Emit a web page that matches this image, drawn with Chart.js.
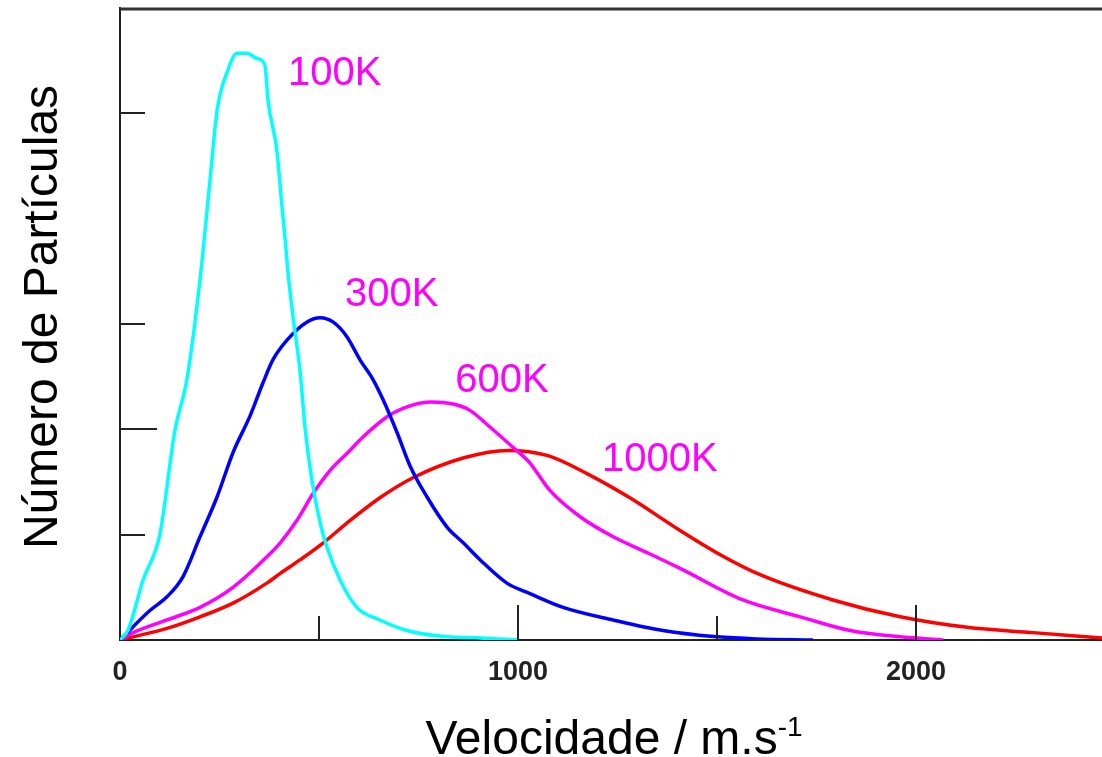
<!DOCTYPE html>
<html>
<head>
<meta charset="utf-8">
<script src="https://cdn.jsdelivr.net/npm/chart.js@4"></script>
<style>
  body { margin: 0; background: #fff; }
  #wrap { width: 1102px; height: 757px; }
</style>
</head>
<body>
<div id="wrap"><canvas id="maxwell" width="1102" height="757"></canvas></div>
<script>
// Maxwell-Boltzmann speed distributions (arbitrary count units)
var speed100 = [0, 20, 58, 100, 138, 168, 201, 226, 244, 271, 294, 319, 344, 364, 372, 394, 407, 415, 422, 435, 453, 465, 482, 503, 520, 553, 595, 653, 721, 822, 905, 1000];
var count100 = [0, 0.09, 0.57, 1.0, 1.99, 2.47, 3.42, 4.36, 5.03, 5.41, 5.57, 5.57, 5.52, 5.46, 5.12, 4.65, 4.11, 3.80, 3.49, 3.06, 2.53, 2.01, 1.52, 1.11, 0.88, 0.57, 0.31, 0.19, 0.09, 0.03, 0.02, 0];

var speed300 = [0, 75, 118, 158, 201, 244, 284, 327, 359, 384, 420, 470, 503, 535, 570, 603, 636, 661, 696, 729, 771, 822, 863, 905, 972, 1030, 1113, 1239, 1364, 1500, 1600, 1741];
var count300 = [0, 0.28, 0.41, 0.60, 0.98, 1.36, 1.78, 2.13, 2.44, 2.66, 2.85, 3.02, 3.06, 3.02, 2.88, 2.66, 2.47, 2.28, 1.97, 1.65, 1.36, 1.07, 0.92, 0.76, 0.54, 0.44, 0.31, 0.19, 0.09, 0.03, 0.01, 0];

var speed600 = [0, 33, 118, 201, 284, 369, 402, 445, 485, 528, 570, 611, 671, 711, 779, 837, 879, 930, 987, 1030, 1080, 1156, 1239, 1324, 1407, 1565, 1709, 1834, 1960, 2068];
var count600 = [0, 0.07, 0.19, 0.31, 0.50, 0.79, 0.92, 1.14, 1.39, 1.61, 1.77, 1.93, 2.12, 2.20, 2.26, 2.24, 2.18, 2.02, 1.83, 1.68, 1.42, 1.17, 0.98, 0.83, 0.68, 0.38, 0.22, 0.09, 0.03, 0];

var speed1000 = [0, 33, 118, 201, 284, 369, 402, 452, 510, 570, 653, 736, 864, 975, 1075, 1173, 1281, 1407, 1508, 1608, 1791, 1960, 2128, 2294, 2467];
var count1000 = [0, 0.03, 0.11, 0.22, 0.35, 0.54, 0.63, 0.76, 0.92, 1.11, 1.35, 1.54, 1.73, 1.80, 1.75, 1.58, 1.35, 1.04, 0.81, 0.62, 0.38, 0.22, 0.12, 0.07, 0.02];

var curveNames = ['100K', '300K', '600K', '1000K'];
var xLabelValues = [0, 1000, 2000];
var xTickValues = [500, 1000, 1500, 2000];
var yTickValues = [1, 2, 3, 5];

function points(xs, ys) {
    return xs.map(function (x, i) { return { x: x, y: ys[i] }; });
}

function curve(label, xs, ys, color) {
    return {
        label: label,
        data: points(xs, ys),
        borderColor: color,
        backgroundColor: color,
        borderWidth: 3.5,
        pointRadius: 0,
        cubicInterpolationMode: 'monotone',
    };
}

// where each temperature label sits, in data units
var labelAnchors = [
    { x: 422, y: 5.27 },
    { x: 565, y: 3.17 },
    { x: 842, y: 2.35 },
    { x: 1211, y: 1.60 },
];

var decorations = {
    id: 'decorations',
    afterDraw: function (chart) {
        var c = chart.ctx;
        var area = chart.chartArea;
        var xs = chart.scales.x;
        var ys = chart.scales.y;
        c.save();

        // frame top
        c.strokeStyle = '#333';
        c.lineWidth = 3;
        c.beginPath();
        c.moveTo(area.left, area.top + 1);
        c.lineTo(area.right, area.top + 1);
        c.stroke();

        // inward tick marks
        c.strokeStyle = '#222';
        c.lineWidth = 2;
        xTickValues.forEach(function (v) {
            var px = Math.round(xs.getPixelForValue(v));
            var len = v % 1000 === 0 ? 35 : 24;
            c.beginPath();
            c.moveTo(px, area.bottom);
            c.lineTo(px, area.bottom - len);
            c.stroke();
        });
        yTickValues.forEach(function (v) {
            var py = Math.round(ys.getPixelForValue(v));
            var len = v === 2 ? 37 : 25;
            c.beginPath();
            c.moveTo(area.left, py);
            c.lineTo(area.left + len, py);
            c.stroke();
        });

        // temperature labels
        c.fillStyle = '#ff00ff';
        c.font = '40px "Liberation Sans", Arial, sans-serif';
        c.textAlign = 'left';
        c.textBaseline = 'alphabetic';
        curveNames.forEach(function (name, i) {
            var a = labelAnchors[i];
            c.fillText(name, xs.getPixelForValue(a.x), ys.getPixelForValue(a.y));
        });

        // axis titles
        c.fillStyle = '#000';
        c.font = '48px "Liberation Sans", Arial, sans-serif';
        var main = 'Velocidade / m.s';
        var sup = '-1';
        var w1 = c.measureText(main).width;
        c.font = '28px "Liberation Sans", Arial, sans-serif';
        var w2 = c.measureText(sup).width;
        var x0 = (area.left + area.right) / 2 + 3 - (w1 + w2) / 2;
        c.font = '48px "Liberation Sans", Arial, sans-serif';
        c.fillText(main, x0, 754);
        c.font = '28px "Liberation Sans", Arial, sans-serif';
        c.fillText(sup, x0 + w1, 736);

        c.font = '48px "Liberation Sans", Arial, sans-serif';
        c.translate(57, 317);
        c.rotate(-Math.PI / 2);
        c.textAlign = 'center';
        c.fillText('Número de Partículas', 0, 0);
        c.restore();
    }
};

var ctx = document.getElementById('maxwell');
var chart = new Chart(ctx, {
    type: 'line',
    plugins: [decorations],
    data: {
        datasets: [
            curve('100K', speed100, count100, '#00ffff'),
            curve('300K', speed300, count300, '#0000ff'),
            curve('600K', speed600, count600, '#ff00ff'),
            curve('1000K', speed1000, count1000, '#ff0000'),
        ]
    },
    options: {
        responsive: false,
        animation: false,
        layout: {
            padding: { top: 8, right: 0, left: 0, bottom: 0 },
        },
        plugins: {
            legend: { display: false },
            tooltip: { enabled: false },
        },
        scales: {
            x: {
                type: 'linear',
                min: 0,
                max: 2467,
                afterBuildTicks: function (scale) {
                    scale.ticks = xLabelValues.map(function (v) { return { value: v }; });
                },
                afterFit: function (scale) {
                    scale.height = 117;
                    scale.paddingLeft = 0;
                    scale.paddingRight = 0;
                },
                ticks: {
                    autoSkip: false,
                    maxRotation: 0,
                    padding: 16,
                    color: '#222',
                    font: { family: '"Liberation Sans", Arial, sans-serif', size: 27, weight: 'bold' },
                    callback: function (v) { return String(v); },
                },
                grid: { drawOnChartArea: false, drawTicks: false },
                border: { color: '#222', width: 2 },
            },
            y: {
                min: 0,
                max: 6,
                afterFit: function (scale) { scale.width = 120; },
                ticks: { display: false },
                grid: { drawOnChartArea: false, drawTicks: false },
                border: { color: '#222', width: 2 },
            },
        },
    },
});
</script>
</body>
</html>
